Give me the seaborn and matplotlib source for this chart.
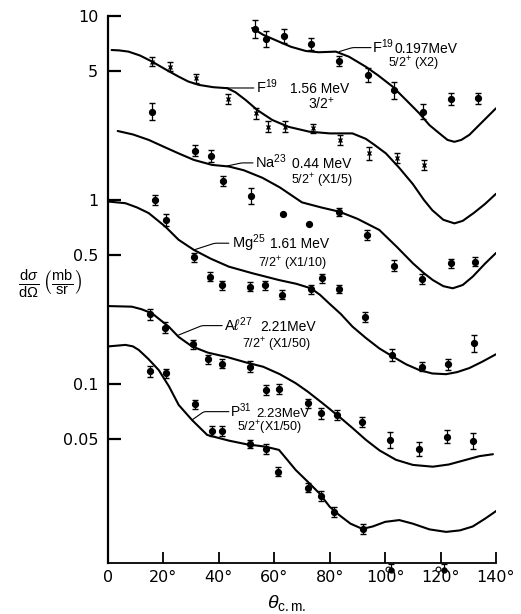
import numpy as np
import matplotlib
matplotlib.use("Agg")
import matplotlib.pyplot as plt
from matplotlib.ticker import NullLocator
import seaborn as sns

# ---------------- data ----------------
# Theoretical curves (theta_cm in degrees, dsigma/dOmega in mb/sr)
F19a_curve_deg = [52, 56, 61.7, 66, 71.4, 76, 82.2, 87, 93, 97.5, 102.7, 107.5, 112.3, 116, 119.6,
                  122.5, 125, 127.5, 130.4, 135, 140]
F19a_curve_val = [8.6, 7.9, 7.25, 6.8, 6.45, 6.35, 6.4, 6.0, 5.3, 4.75, 4.13, 3.5, 2.96, 2.55, 2.3,
                  2.12, 2.07, 2.12, 2.26, 2.65, 3.15]

F19b_curve_deg = [1.3, 4, 7.4, 11.5, 15.9, 20.5, 25.5, 29, 32.8, 38, 43, 46, 49.7, 54, 59.3, 65, 72.6,
                  80, 88.2, 93, 96, 100.3, 105, 110, 114, 117, 121, 125, 128, 132, 136, 140]
F19b_curve_val = [6.53, 6.5, 6.4, 6.1, 5.65, 5.15, 4.68, 4.4, 4.22, 4.1, 4.05, 3.85, 3.49, 3.07, 2.72,
                  2.5, 2.35, 2.3, 2.3, 2.15, 2.0, 1.79, 1.5, 1.22, 1.0, 0.88, 0.78, 0.746, 0.77, 0.85,
                  0.95, 1.08]

Na23_curve_deg = [3.5, 9, 14.7, 20, 25.5, 31, 37.6, 43.6, 49, 55.7, 62, 70, 77, 83.4, 90, 97.9, 104,
                  110, 114, 117.2, 121, 124.4, 128, 131.6, 136, 140]
Na23_curve_val = [2.37, 2.27, 2.12, 1.95, 1.79, 1.65, 1.55, 1.52, 1.45, 1.32, 1.17, 0.97, 0.91, 0.864,
                  0.79, 0.687, 0.56, 0.453, 0.4, 0.367, 0.34, 0.331, 0.345, 0.383, 0.45, 0.515]

Mg25_curve_deg = [0.2, 6.3, 10.5, 14.7, 20.7, 25.5, 31, 37, 43.6, 52, 61.7, 68, 73.2, 76.5, 79.8, 84,
                  88.2, 93, 97.9, 102.7, 107.5, 112.3, 117, 122, 126, 130.4, 135, 140]
Mg25_curve_val = [0.98, 0.96, 0.91, 0.848, 0.716, 0.607, 0.535, 0.48, 0.434, 0.4, 0.367, 0.35, 0.331,
                  0.305, 0.274, 0.24, 0.205, 0.178, 0.156, 0.141, 0.128, 0.119, 0.114, 0.113, 0.116,
                  0.122, 0.132, 0.145]

Al27_curve_deg = [0.2, 8.6, 12, 15.9, 18.5, 21.9, 25.5, 30.3, 36, 43, 49.7, 56, 62, 67.7, 72, 77.4,
                  83.4, 88, 93.1, 98, 103.9, 110, 117.2, 123, 129.2, 134, 138.9]
Al27_curve_val = [0.265, 0.263, 0.255, 0.242, 0.225, 0.205, 0.18, 0.16, 0.148, 0.14, 0.131, 0.124,
                  0.113, 0.101, 0.091, 0.0786, 0.0664, 0.058, 0.0496, 0.0435, 0.0387, 0.0363, 0.0355,
                  0.0365, 0.0387, 0.0405, 0.0415]

P31_curve_deg = [0.2, 6.3, 9, 11.1, 14.5, 18.3, 22, 25.5, 30.3, 35.8, 43.6, 50, 56.9, 61.7, 64.5, 67.7,
                 72, 76.2, 80, 83.4, 87.5, 91.8, 95.5, 100, 105.1, 110, 116, 122, 127, 131.6, 136, 140.7]
P31_curve_val = [0.16, 0.163, 0.16, 0.153, 0.137, 0.119, 0.097, 0.0769, 0.0637, 0.0528, 0.0492, 0.047,
                 0.0456, 0.0438, 0.039, 0.0341, 0.0295, 0.0255, 0.0215, 0.0194, 0.0174, 0.0163, 0.0168,
                 0.0178, 0.0182, 0.0174, 0.0162, 0.0157, 0.016, 0.0168, 0.0185, 0.0207]

# Measured points (value, relative error in %)
F19a_deg = [53.0, 57.1, 63.5, 73.4, 83.4, 93.8, 103.3, 113.7, 123.8, 133.4]
F19a_val = [8.47, 7.5, 7.79, 7.07, 5.69, 4.77, 3.94, 3.02, 3.54, 3.57]
F19a_err = [12, 11, 9, 8, 6, 9, 11, 10, 8, 7]

F19b_deg = [15.9, 22.2, 31.6, 43.4, 53.5, 57.8, 63.9, 73.8, 83.8, 94.0, 104.1, 114.1]
F19b_val = [5.65, 5.3, 4.58, 3.54, 2.96, 2.5, 2.5, 2.45, 2.12, 1.79, 1.69, 1.55]
F19b_err = [6, 6, 6, 7, 7, 7, 7, 6, 6, 8, 7, 6]

Na23_deg = [15.7, 31.3, 37.2, 41.5, 51.7, 63.2, 72.6, 83.4, 93.6, 103.3, 113.2, 123.6, 132.5]
Na23_val = [3.02, 1.85, 1.74, 1.27, 1.05, 0.835, 0.743, 0.857, 0.645, 0.44, 0.372, 0.453, 0.462]
Na23_err = [11, 7, 8, 6, 10, 0, 0, 5, 7, 7, 7, 6, 6]

Mg25_deg = [16.9, 20.9, 31.0, 36.7, 41.3, 51.2, 56.8, 62.7, 73.2, 77.1, 83.4, 92.8, 102.3, 113.2, 122.7, 131.9]
Mg25_val = [1.0, 0.778, 0.488, 0.383, 0.344, 0.338, 0.344, 0.305, 0.327, 0.375, 0.327, 0.231, 0.144,
            0.124, 0.128, 0.166]
Mg25_err = [6, 8, 6, 6, 6, 6, 6, 6, 6, 6, 5, 6, 8, 6, 7, 11]

Al27_deg = [15.0, 20.7, 30.6, 36.0, 41.2, 51.2, 56.9, 61.7, 72.3, 76.8, 82.6, 91.8, 101.9, 112.3, 122.2, 131.6]
Al27_val = [0.239, 0.202, 0.164, 0.136, 0.129, 0.124, 0.0927, 0.0939, 0.0786, 0.0692, 0.0678, 0.062,
            0.0496, 0.0442, 0.0518, 0.049]
Al27_err = [7, 7, 6, 6, 6, 7, 6, 6, 6, 7, 6, 6, 11, 9, 9, 10]

P31_deg = [15.3, 20.9, 31.3, 37.4, 41.2, 51.2, 57.1, 61.5, 72.3, 76.8, 81.6, 92.1]
P31_val = [0.117, 0.114, 0.0776, 0.0556, 0.0556, 0.047, 0.0443, 0.0333, 0.0273, 0.0246, 0.0201, 0.0163]
P31_err = [7, 6, 6, 6, 6, 5, 6, 6, 6, 7, 6, 6]

# off-scale points just below the axis
off_deg = [102.0, 121.4]
off_val = [0.0097, 0.0097]
off_open_deg = [100.9, 119.0]
off_open_val = [0.0099, 0.0099]

x_ticks = [0, 20, 40, 60, 80, 100, 120, 140]
x_ticklabels = ["0", "20°", "40°", "60°", "80°", "100°", "120°", "140°"]
y_ticks = [10, 5, 1, 0.5, 0.1, 0.05]
y_ticklabels = ["10", "5", "1", "0.5", "0.1", "0.05"]

# ---------------- drawing ----------------
sns.set_style("ticks")
plt.rcParams['font.family'] = ['DejaVu Sans']
plt.rcParams['mathtext.fontset'] = 'custom'
plt.rcParams['mathtext.rm'] = 'Liberation Sans'
plt.rcParams['mathtext.it'] = 'Liberation Sans:italic'
plt.rcParams['mathtext.bf'] = 'Liberation Sans:bold'
plt.rcParams['mathtext.sf'] = 'Liberation Sans'
for k in ['text.color', 'axes.labelcolor', 'xtick.color', 'ytick.color', 'axes.edgecolor']:
    plt.rcParams[k] = 'black'
LAB = ['Liberation Sans', 'DejaVu Sans']

fig = plt.figure(figsize=(5.21, 6.14), dpi=100)
ax = fig.add_axes([0.2073, 0.0831, 0.7447, 0.8909])
ax.set_yscale('log')

curves = [(F19a_curve_deg, F19a_curve_val), (F19b_curve_deg, F19b_curve_val),
          (Na23_curve_deg, Na23_curve_val), (Mg25_curve_deg, Mg25_curve_val),
          (Al27_curve_deg, Al27_curve_val), (P31_curve_deg, P31_curve_val)]
for cx, cy in curves:
    sns.lineplot(x=cx, y=cy, ax=ax, color='black', lw=1.5, sort=False, estimator=None,
                 solid_joinstyle='round', solid_capstyle='round')


def pts(deg, val, err, marker='o', ms=4.2):
    v = np.array(val)
    f = 1 + np.array(err) / 100.0
    lo = v - v / f
    hi = v * f - v
    ax.errorbar(deg, v, yerr=[lo, hi], fmt=marker, ms=ms, color='black', mfc='black',
                mec='black', capsize=2.2, elinewidth=0.9, capthick=0.9, mew=1.0)


pts(F19a_deg, F19a_val, F19a_err)
pts(F19b_deg, F19b_val, F19b_err, marker='x', ms=2.8)
pts(Na23_deg, Na23_val, Na23_err)
pts(Mg25_deg, Mg25_val, Mg25_err)
pts(Al27_deg, Al27_val, Al27_err)
pts(P31_deg, P31_val, P31_err)

ax.errorbar(off_deg, off_val, yerr=[np.array(off_val) * 0.0, np.array(off_val) * 0.08], fmt='o',
            ms=3.5, color='black', capsize=2, elinewidth=0.9, capthick=0.9, clip_on=False)
ax.plot(off_open_deg, off_open_val, 'o', ms=3.5, mfc='white', mec='black', mew=0.8, clip_on=False)

ax.set_xlim(0, 140)
ax.set_ylim(0.01064, 10)

ax.set_xticks(x_ticks)
ax.set_xticklabels(x_ticklabels)
ax.set_yticks(y_ticks)
ax.set_yticklabels(y_ticklabels)
ax.yaxis.set_minor_locator(NullLocator())
ax.tick_params(axis='y', direction='in', length=9, width=1.6, pad=7, labelsize=11.5)
ax.tick_params(axis='x', direction='in', length=8, width=1.3, pad=5, labelsize=11.5)

sns.despine(ax=ax)
ax.spines['left'].set_linewidth(1.6)
ax.spines['bottom'].set_linewidth(1.3)

ax.set_xlabel(r"$\theta_{\mathrm{c.m.}}$", fontsize=14)
ax.xaxis.label.set_va('center')
ax.xaxis.set_label_coords(0.46, -0.073)
ax.set_ylabel(r"$\frac{\mathrm{d}\sigma}{\mathrm{d}\Omega}\,\left(\frac{\mathrm{mb}}{\mathrm{sr}}\right)$",
              fontsize=15, rotation=0, va='center')
ax.yaxis.set_label_coords(-0.15, 0.51)

# ---------------- labels with leader lines ----------------
leader_kw = dict(arrowstyle='-', lw=0.8, color='black', shrinkA=0, shrinkB=0)
labels = [
    # (curve xy, leader end, angleB, [(x, baseline y, text, size)])
    ((83.4, 6.4), (94.9, 6.73), 17,
     [(95.4, 6.27, "F$^{19}$", 10.5), (103.2, 6.27, "0.197MeV", 10), (101.0, 5.25, "5/2$^{+}$ (X2)", 9)]),
    ((43.0, 4.06), (52.6, 4.06), 10,
     [(53.4, 3.80, "F$^{19}$", 10.5), (65.5, 3.80, "1.56 MeV", 10), (72.0, 3.14, "3/2$^{+}$", 10)]),
    ((43.0, 1.53), (52.3, 1.59), 12,
     [(53.0, 1.486, "Na$^{23}$", 10.5), (66.5, 1.486, "0.44 MeV", 10), (65.9, 1.22, "5/2$^{+}$ (X1/5)", 9)]),
    ((31.0, 0.535), (43.6, 0.582), 18,
     [(44.6, 0.5465, "Mg$^{25}$", 10.5), (58.6, 0.5465, "1.61 MeV", 10), (54.1, 0.43, "7/2$^{+}$ (X1/10)", 9)]),
    ((25.5, 0.1845), (41.2, 0.2075), 22,
     [(41.8, 0.195, r"A$\ell^{27}$", 10.5), (55.1, 0.195, "2.21MeV", 10), (48.4, 0.157, "7/2$^{+}$ (X1/50)", 9)]),
    ((30.3, 0.0637), (43.6, 0.0707), 35,
     [(44.2, 0.0662, "P$^{31}$", 10), (53.5, 0.0662, "2.23MeV", 9.5), (46.6, 0.0553, "5/2$^{+}$(X1/50)", 9)]),
]
for xy, xyt, angB, parts in labels:
    ax.annotate("", xy=xy, xytext=xyt,
                arrowprops=dict(connectionstyle=f"angle,angleA=0,angleB={angB},rad=2", **leader_kw))
    for tx, ty, tt, ts in parts:
        ax.text(tx, ty, tt, ha='left', va='baseline', fontsize=ts, family=LAB)

fig.savefig("out.png", dpi=100)
